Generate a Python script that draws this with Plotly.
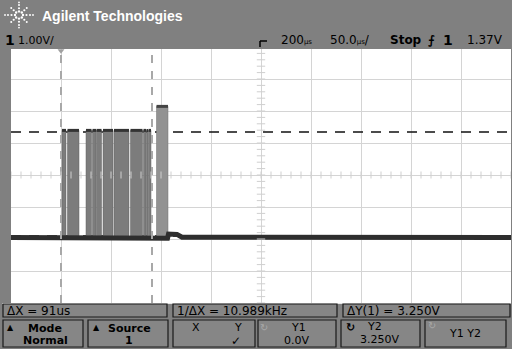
import plotly.graph_objects as go
import math

# ---------------- data ----------------
# time in microseconds (50 us/div, delay 200 us), voltage in volts (1 V/div)
t_range = [-50, 450]
v_range = [-2.094, 5.906]
cursor_x = [0, 91]          # X1, X2 (us)
cursor_y = [0.0, 3.25]      # Y1, Y2 (V)
trigger_t = 0

# burst high intervals (start_us, end_us, level_V)
burst_start = [1, 6.5, 25, 31.5, 35.5, 42, 53, 69.5, 82.5, 85.5, 87.5]
burst_end   = [5, 18, 30.5, 35, 40.5, 52, 68, 81.5, 85, 87, 90]
burst_level = [3.3] * 11
tall_start, tall_end, tall_level = 95.5, 107, 4.05

# baseline trace
base_t = [-50, 0, 1, 90, 95, 106.5, 107.5, 116, 121, 450]
base_v = [-0.05, -0.05, -0.08, -0.08, -0.07, -0.07, 0.06, 0.05, -0.04, -0.05]

header_left = "1.00V/"
delay_txt = "200"
tdiv_txt = "50.0"
trig_level = "1.37V"
meas = ["ΔX = 91us", "1/ΔX = 10.989kHz", "ΔY(1) = 3.250V"]

# ---------------- figure ----------------
W, H = 512, 349
L, R, T, B = 11, 1, 47, 46
PW, PH = W - L - R, H - T - B

def px(x):
    return (x - L) / PW

def py(y):
    return (H - B - y) / PH

BG = "#808080"
fig = go.Figure()

# Y cursors (below trace)
for v in cursor_y:
    fig.add_trace(go.Scatter(x=t_range, y=[v, v], mode="lines",
                             line=dict(color="#111111", width=1.6, dash="10px,8px"),
                             hoverinfo="skip", showlegend=False))

# burst fills
for s, e, lv in zip(burst_start, burst_end, burst_level):
    fig.add_trace(go.Scatter(x=[s, s, e, e, s], y=[-0.08, lv, lv, -0.08, -0.08],
                             mode="lines", fill="toself", fillcolor="#7c7c7c",
                             line=dict(color="#606060", width=0.5),
                             hoverinfo="skip", showlegend=False))
    fig.add_trace(go.Scatter(x=[s, e], y=[lv, lv], mode="lines",
                             line=dict(color="#333333", width=3),
                             hoverinfo="skip", showlegend=False))
fig.add_trace(go.Scatter(x=[tall_start, tall_start, tall_end, tall_end, tall_start],
                         y=[-0.08, tall_level, tall_level, -0.08, -0.08],
                         mode="lines", fill="toself", fillcolor="#929292",
                         line=dict(color="#707070", width=0.5),
                         hoverinfo="skip", showlegend=False))
fig.add_trace(go.Scatter(x=[tall_start, tall_end], y=[tall_level, tall_level], mode="lines",
                         line=dict(color="#444444", width=3),
                         hoverinfo="skip", showlegend=False))

# baseline
fig.add_trace(go.Scatter(x=base_t, y=base_v, mode="lines",
                         line=dict(color="#2e2e2e", width=5),
                         hoverinfo="skip", showlegend=False))

# X cursors
for tx in cursor_x:
    fig.add_trace(go.Scatter(x=[tx, tx], y=v_range, mode="lines",
                             line=dict(color="#a8a8a8", width=2, dash="8px,8px"),
                             hoverinfo="skip", showlegend=False))

# center-axis minor ticks
xc = (t_range[0] + t_range[1]) / 2
yc = (v_range[0] + v_range[1]) / 2
hx = [t_range[0] + 10 * i for i in range(51)]
vy = [v_range[0] + 0.2 * i for i in range(41)]
fig.add_trace(go.Scatter(x=hx, y=[yc] * len(hx), mode="markers",
                         marker=dict(symbol="line-ns", size=5, line=dict(color="#cfcfcf", width=1)),
                         hoverinfo="skip", showlegend=False))
fig.add_trace(go.Scatter(x=[xc] * len(vy), y=vy, mode="markers",
                         marker=dict(symbol="line-ew", size=6, line=dict(color="#cfcfcf", width=1)),
                         hoverinfo="skip", showlegend=False))

# trigger point marker
fig.add_trace(go.Scatter(x=[trigger_t], y=[v_range[1] - 0.12], mode="markers",
                         marker=dict(symbol="triangle-down", size=6, color="#a0a0a0"),
                         hoverinfo="skip", showlegend=False))

fig.update_xaxes(range=t_range, showgrid=True, gridcolor="#d4d4d4", gridwidth=1,
                 tick0=-50, dtick=50, showticklabels=False, zeroline=False, ticks="",
                 fixedrange=True)
fig.update_yaxes(range=v_range, showgrid=True, gridcolor="#d4d4d4", gridwidth=1,
                 tick0=v_range[0], dtick=1, showticklabels=False, zeroline=False, ticks="",
                 fixedrange=True)

shapes = []
ann = []

def text(s, x, y, size=12, color="black", bold=False, xanchor="left", family="Liberation Sans"):
    if bold:
        s = "<b>" + s + "</b>"
    ann.append(dict(text=s, x=px(x), y=py(y), xref="paper", yref="paper",
                    xanchor=xanchor, yanchor="middle", showarrow=False,
                    font=dict(size=size, color=color, family=family), borderpad=0))

def box(x0, y0, x1, y1):
    shapes.append(dict(type="rect", xref="paper", yref="paper",
                       x0=px(x0), x1=px(x1), y0=py(y1), y1=py(y0),
                       line=dict(color="#1a1a1a", width=1.2), fillcolor="#868686", layer="above"))

# header strip covering top edge
shapes.append(dict(type="rect", xref="paper", yref="paper", x0=px(0), x1=px(W),
                   y0=py(49), y1=py(47), line=dict(width=0), fillcolor=BG, layer="above"))
# bottom separator
shapes.append(dict(type="line", xref="paper", yref="paper", x0=px(2), x1=px(511),
                   y0=py(303.5), y1=py(303.5), line=dict(color="#e8e8e8", width=1), layer="above"))

# logo dots
cx, cy = 19, 15
for k in range(8):
    a = k * math.pi / 4
    for r, sz in [(4, 1.2), (7.5, 1.1), (11, 1.0), (14, 0.9)]:
        if k % 2 == 1 and r > 11:
            continue
        x = cx + r * math.cos(a)
        y = cy + r * math.sin(a) * 0.9
        shapes.append(dict(type="circle", xref="paper", yref="paper",
                           x0=px(x - sz), x1=px(x + sz), y0=py(y + sz), y1=py(y - sz),
                           line=dict(width=0), fillcolor="white", layer="above"))

text("Agilent Technologies", 41, 16, size=14, color="white", bold=True, family="Liberation Sans")
text("1", 4, 40, size=14, bold=True, family="DejaVu Sans")
text(header_left, 17, 40, size=11, family="DejaVu Sans")

# trigger position icon
shapes.append(dict(type="line", xref="paper", yref="paper", x0=px(260), x1=px(267),
                   y0=py(41), y1=py(41), line=dict(color="black", width=1.5), layer="above"))
shapes.append(dict(type="line", xref="paper", yref="paper", x0=px(260), x1=px(260),
                   y0=py(41), y1=py(47), line=dict(color="black", width=1.5), layer="above"))

text(delay_txt + "<span style='font-size:7px'>µs</span>", 280, 40, size=12, family="DejaVu Sans")
text(tdiv_txt + "<span style='font-size:7px'>µs</span>/", 329, 40, size=12, family="DejaVu Sans")
text("Stop", 389, 40, size=12, bold=True, family="DejaVu Sans")
text("⨍", 427, 40, size=12, bold=True, family="DejaVu Sans")
text("1", 442, 40, size=14, bold=True, family="DejaVu Sans")
text(trig_level, 466, 40, size=12, family="DejaVu Sans")

# measurement boxes
mb = [(3, 167), (173, 337), (343, 510)]
for (x0, x1), s in zip(mb, meas):
    box(x0, 304, x1, 317)
    text(s, x0 + 3, 311, size=12, family="DejaVu Sans")

# softkeys
keys = [(3, 83), (88, 168), (173, 255), (258, 336), (341, 420), (425, 506)]
for x0, x1 in keys:
    box(x0, 320, x1, 347)

text("▲", 6, 327, size=8, family="DejaVu Sans")
text("Mode", 45, 328, size=11, bold=True, xanchor="center", family="DejaVu Sans")
text("Normal", 45, 340, size=11, bold=True, xanchor="center", family="DejaVu Sans")
text("▲", 92, 327, size=8, family="DejaVu Sans")
text("Source", 129, 328, size=11, bold=True, xanchor="center", family="DejaVu Sans")
text("1", 129, 340, size=11, bold=True, xanchor="center", family="DejaVu Sans")
text("X", 196, 327, size=11, xanchor="center", family="DejaVu Sans")
text("Y", 238, 327, size=11, xanchor="center", family="DejaVu Sans")
text("✓", 236, 341, size=12, xanchor="center", family="DejaVu Sans")
text("↻", 264, 327, size=10, color="#a8a8a8", xanchor="center", family="DejaVu Sans")
text("Y1", 298, 327, size=11, xanchor="center", family="DejaVu Sans")
text("0.0V", 296, 340, size=11, xanchor="center", family="DejaVu Sans")
text("↻", 350, 327, size=11, bold=True, xanchor="center", family="DejaVu Sans")
text("Y2", 374, 326, size=11, xanchor="center", family="DejaVu Sans")
text("3.250V", 379, 339, size=11, xanchor="center", family="DejaVu Sans")
text("↻", 432, 325, size=10, color="#a8a8a8", xanchor="center", family="DejaVu Sans")
text("Y1 Y2", 465, 333, size=11, xanchor="center", family="DejaVu Sans")

fig.update_layout(width=W, height=H, margin=dict(l=L, r=R, t=T, b=B, pad=0),
                  paper_bgcolor=BG, plot_bgcolor="white",
                  shapes=shapes, annotations=ann, showlegend=False)

fig.write_html("out.html", config={"displayModeBar": False})
